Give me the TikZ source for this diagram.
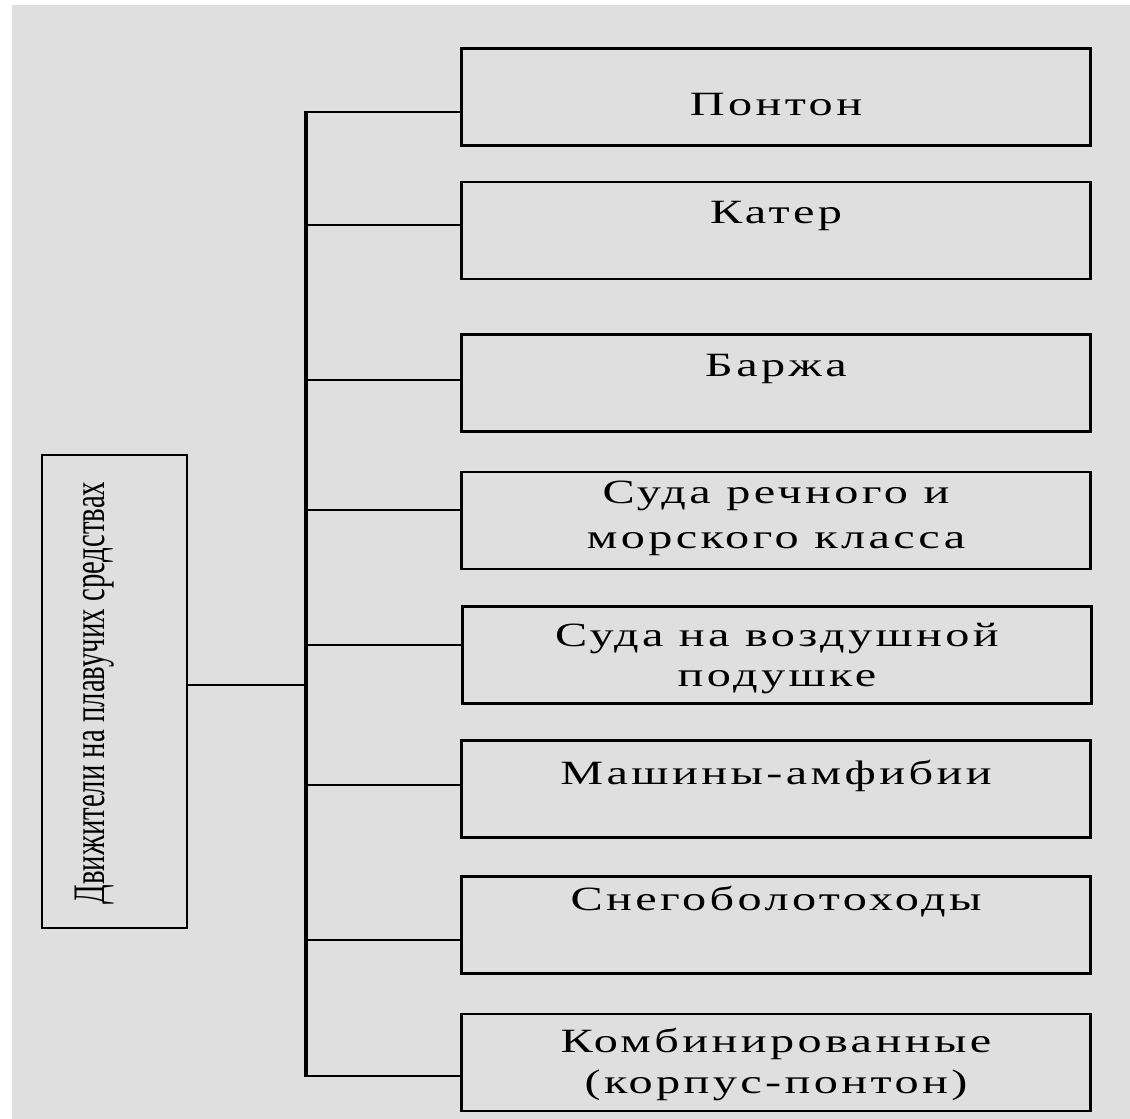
\documentclass[tikz,border=0pt]{standalone}
\usepackage{fontspec}
\setmainfont{Liberation Serif}
\newfontfamily\boxfont[FakeStretch=1.42,LetterSpace=10]{Liberation Serif}
\newfontfamily\sidefont[FakeStretch=0.64]{Liberation Serif}
\definecolor{fond}{RGB}{223,223,223}

\begin{document}
\begin{tikzpicture}[x=1pt,y=-1pt,
	item/.style={draw,line width=2.8pt,minimum width=629pt,minimum height=97pt,inner sep=0pt},
	lbl/.style={font=\boxfont\fontsize{34}{42}\selectfont,align=center,anchor=base,inner sep=0pt},
	link/.style={line width=2.2pt}]
	\useasboundingbox (0,0) rectangle (1130,1119);
	\fill[fond] (12,5) rectangle (1130,1119);
	% bloc de gauche
	\node[draw,line width=2.8pt,minimum width=145pt,minimum height=473pt] (main) at (114.5,691.5) {};
	\node[font=\sidefont\fontsize{45}{45}\selectfont,rotate=90,anchor=base,inner sep=0pt] (maintxt) at (104,693) {Движители на плавучих средствах};
	% blocs de droite
	\node[item] (b1) at (776,97) {};
	\node[item] (b2) at (776,230.5) {};
	\node[item] (b3) at (776,383) {};
	\node[item] (b4) at (776,520.5) {};
	\node[item] (b5) at (777,655) {};
	\node[item] (b6) at (776,789) {};
	\node[item] (b7) at (776,925) {};
	\node[item] (b8) at (776,1062.5) {};
	\node[lbl] (t1) at (776,115) {Понтон};
	\node[lbl] (t2) at (776,223) {Катер};
	\node[lbl] (t3) at (776,376) {Баржа};
	\node[lbl,font=\boxfont\fontsize{34}{45}\selectfont] (t4) at (776,548) {Суда речного и\\морского класса};
	\node[lbl,font=\boxfont\fontsize{34}{40}\selectfont] (t5) at (777,686) {Суда на воздушной\\подушке};
	\node[lbl] (t6) at (776,784) {Машины-амфибии};
	\node[lbl] (t7) at (776,910) {Снегоболотоходы};
	\node[lbl,font=\boxfont\fontsize{34}{41}\selectfont] (t8) at (776,1093) {Комбинированные\\(корпус-понтон)};
	% liaisons
	\draw[line width=3.4pt] (306,111) -- (306,1077);
	\draw[link] (main.east |- 0,685) -- (306,685);
	\foreach \i/\y in {1/112,2/225,3/380,4/510,5/645,6/785,7/940,8/1076}
		\draw[link] (306,\y) -- (306,\y -| b\i.west);
\end{tikzpicture}
\end{document}
